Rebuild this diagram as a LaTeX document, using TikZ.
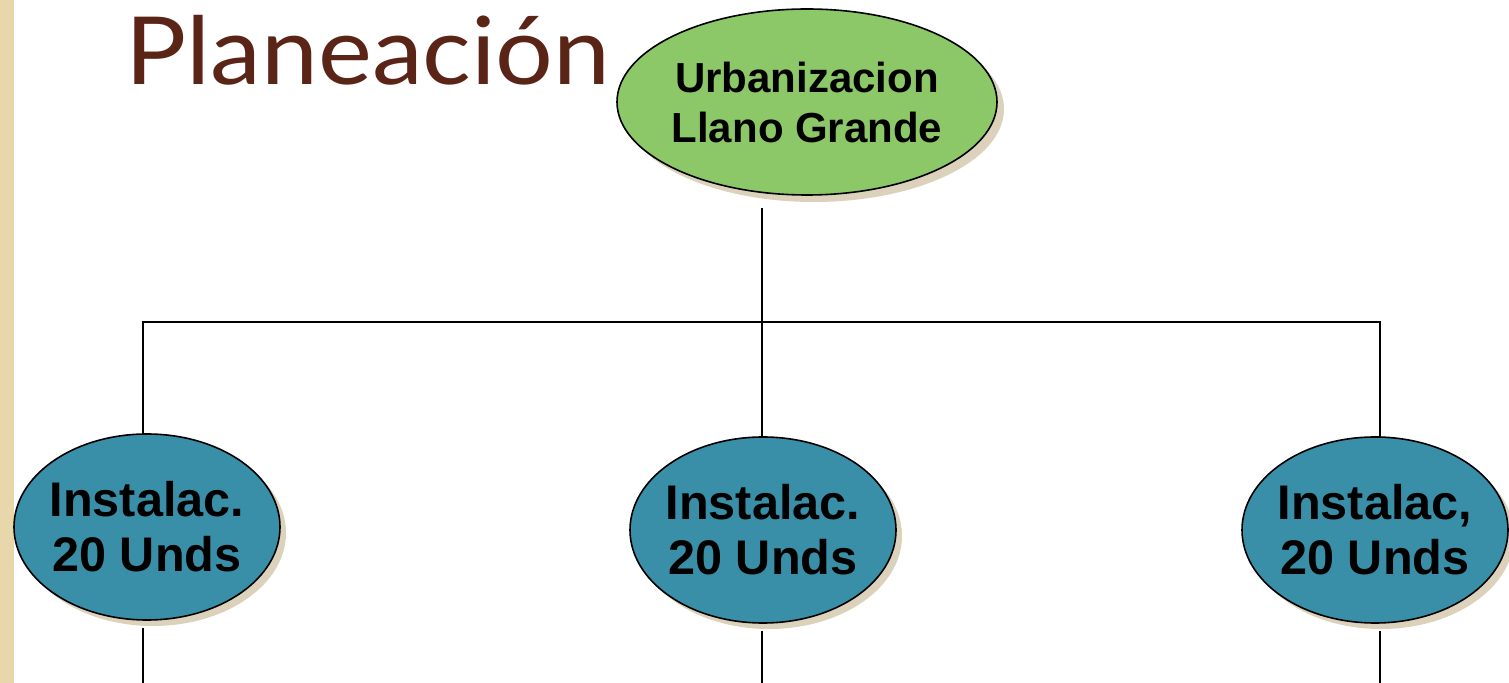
\documentclass[tikz,border=0pt]{standalone}
\usepackage{fontspec}
\setmainfont{Liberation Sans}
\newfontfamily\titlefont{Lato}
\usetikzlibrary{shapes.geometric}
\definecolor{leafgreen}{HTML}{8CC768}
\definecolor{tealblue}{HTML}{3A8FA8}
\definecolor{titlebrown}{HTML}{5A2417}
\definecolor{stripbeige}{HTML}{E8D7AA}
\definecolor{shadowbeige}{HTML}{DCD2BC}
\begin{document}
\begin{tikzpicture}[x=0.5pt,y=-0.5pt,
  bubble/.style={ellipse,draw=black,line width=0.8pt,inner xsep=-8pt,inner ysep=0pt,align=center},
  topbubble/.style={bubble,fill=leafgreen,minimum width=190pt,minimum height=93pt,
    font=\fontsize{21pt}{25pt}\selectfont\bfseries},
  subbubble/.style={bubble,fill=tealblue,minimum width=133pt,minimum height=93pt,
    font=\fontsize{24.3pt}{27.5pt}\selectfont\bfseries},
  shade/.style={ellipse,fill=shadowbeige,draw=none,inner sep=0pt},
  link/.style={draw=black,line width=0.8pt}]
\useasboundingbox (0,0) rectangle (1509,683);
\fill[white] (0,0) rectangle (1509,683);
\fill[stripbeige] (0,0) rectangle (14,683);
\node[anchor=base west,inner sep=0pt,xscale=1.085,text=titlebrown,font=\titlefont\fontsize{47pt}{50pt}\selectfont] (title) at (125,85) {Planeación};
% shadows
\node[shade,minimum width=190pt,minimum height=93pt] at (814,109) {};
\node[shade,minimum width=133pt,minimum height=93pt] at (153,533) {};
\node[shade,minimum width=133pt,minimum height=93pt] at (769,536) {};
\node[shade,minimum width=133pt,minimum height=93pt] at (1381,536) {};
% nodes
\node[topbubble] (top) at (807,102) {Urbanizacion\\Llano Grande};
\node[subbubble] (left) at (147,527) {Instalac.\\20 Unds};
\node[subbubble] (mid) at (763,530) {Instalac.\\20 Unds};
\node[subbubble] (right) at (1375,530) {Instalac,\\20 Unds};
% coordinates
\coordinate (topout) at (762,208);
\coordinate (busL) at (143,322);
\coordinate (busR) at (1380,322);
\coordinate (leftin) at (143,434);
\coordinate (midin) at (762,437);
\coordinate (rightin) at (1380,437);
\coordinate (leftout) at (143,628);
\coordinate (midout) at (762,631);
\coordinate (rightout) at (1380,631);
\coordinate (leftend) at (143,683);
\coordinate (midend) at (762,683);
\coordinate (rightend) at (1380,683);
% connectors
\draw[link] (topout) -- (midin);
\draw[link] (leftin) -- (busL) -- (busR) -- (rightin);
\draw[link] (leftout) -- (leftend);
\draw[link] (midout) -- (midend);
\draw[link] (rightout) -- (rightend);
\end{tikzpicture}
\end{document}
